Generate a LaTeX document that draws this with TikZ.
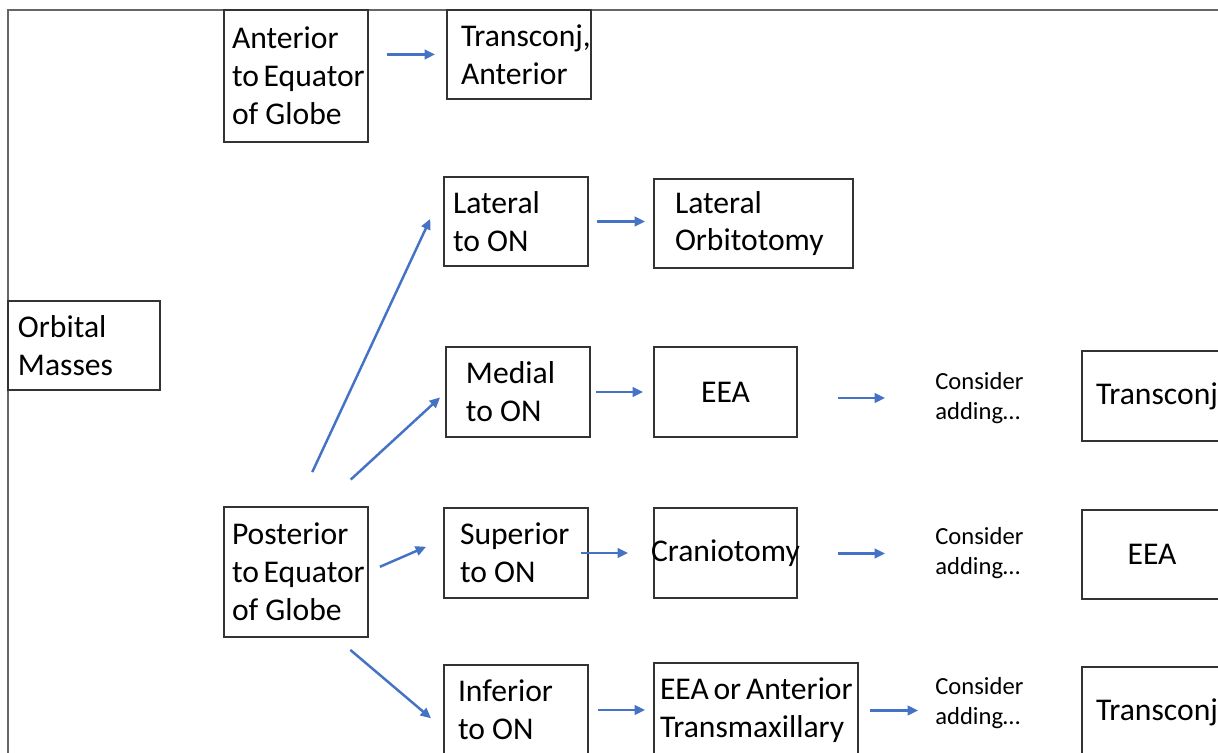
\documentclass[tikz,border=0pt]{standalone}
\usepackage{fontspec}
\setmainfont{Carlito}
\usetikzlibrary{arrows.meta}

\definecolor{arrblue}{RGB}{68,114,196}
\hyphenpenalty=10000

\begin{document}
\begin{tikzpicture}[
  x=0.02cm, y=-0.02cm,
  box/.style={rectangle, draw=black!80, line width=0.8pt, anchor=north west, align=flush left, inner ysep=0pt, outer sep=0pt, font=\fontsize{18}{21.5}\selectfont},
  cbox/.style={box, align=center, inner xsep=0pt},
  note/.style={anchor=west, align=flush left, inner sep=0pt, font=\fontsize{14}{17}\selectfont},
  arr/.style={-{Triangle[length=0.21cm, width=0.19cm]}, draw=arrblue, line width=1.4pt},
]
\useasboundingbox (0,0) rectangle (1218,753);
\clip (0,0) rectangle (1218,753);
\draw[black!60, line width=1pt] (8,10) rectangle (1260,800);

% first level
\node[box, inner xsep=0.2cm, text width=2.64cm, minimum height=1.78cm] (orb) at (8,301) {Orbital\\Masses};
\node[box, inner xsep=0.16cm, text width=2.56cm, minimum height=2.64cm] (ant) at (224,10) {Anterior\\to~Equator\\of Globe};
\node[box, inner xsep=0.16cm, text width=2.56cm, minimum height=2.6cm] (post) at (224,507) {Posterior\\to~Equator\\of Globe};

% position to optic nerve
\node[box, inner xsep=0.28cm, text width=2.32cm, minimum height=1.78cm] (tca) at (447,10) {Transconj,\\Anterior};
\node[box, inner xsep=0.18cm, text width=2.52cm, minimum height=1.78cm] (lat) at (444,177) {Lateral\\to ON};
\node[box, inner xsep=0.4cm, text width=2.08cm, minimum height=1.8cm] (med) at (446,347) {Medial\\to ON};
\node[box, inner xsep=0.32cm, text width=2.24cm, minimum height=1.8cm] (sup) at (444,508) {Superior\\to ON};
\node[box, inner xsep=0.28cm, text width=2.32cm, minimum height=1.8cm] (inf) at (444,665) {Inferior\\to ON};

% approaches
\node[box, inner xsep=0.42cm, text width=3.14cm, minimum height=1.78cm] (lor) at (654,179) {Lateral\\Orbitotomy};
\node[cbox, minimum width=2.86cm, minimum height=1.8cm] (eea1) at (654,347) {EEA};
\node[cbox, minimum width=2.86cm, minimum height=1.8cm] (cra) at (654,508) {\makebox[2.86cm]{Craniotomy}};
\node[box, inner xsep=0.12cm, text width=3.84cm, minimum height=1.9cm] (eat) at (654,663) {EEA~or~Anterior\\Transmaxillary};

\node[note] (con1) at (935,398) {Consider\\adding…};
\node[note] (con2) at (935,553.5) {Consider\\adding…};
\node[note] (con3) at (935,703.5) {Consider\\adding…};

\node[box, inner xsep=0.28cm, text width=2.64cm, minimum height=1.8cm] (tc1) at (1082,351) {Transconj};
\node[cbox, minimum width=2.8cm, minimum height=1.78cm] (eea2) at (1082,510) {EEA};
\node[box, inner xsep=0.28cm, text width=2.64cm, minimum height=1.8cm] (tc3) at (1082,667) {Transconj};

\draw[arr, shorten <=0.38cm, shorten >=0.24cm] (ant.east |- tca.west) -- (tca.west);
\draw[arr, shorten <=0.18cm, shorten >=0.18cm] (lat.east) -- (lat.east -| lor.west);
\draw[arr, shorten <=0.77cm, shorten >=0.65cm] (post.north) -- (lat.156);
\draw[arr, shorten <=0.81cm, shorten >=0.16cm] (post.69) -- (med.west);
\draw[arr, shorten <=0.26cm, shorten >=0.39cm] (post.east) -- (sup.169);
\draw[arr, shorten <=0.4cm, shorten >=0.34cm] (post.301) -- (inf.195);
\draw[arr, shorten <=0.12cm, shorten >=0.22cm] (med.east) -- (eea1.west);
\draw[arr, shorten <=-0.14cm, shorten >=0.52cm] (sup.east) -- (cra.west);
\draw[arr, shorten <=0.2cm, shorten >=0.18cm] (inf.east) -- (inf.east -| eat.west);
\draw[arr, shorten <=0.82cm, shorten >=1cm] (eea1.east |- con1.west) -- (con1.west);
\draw[arr, shorten <=0.82cm, shorten >=1cm] (cra.east |- con2.west) -- (con2.west);
\draw[arr, shorten <=0.24cm, shorten >=0.34cm] (eat.east) -- (eat.east -| con3.west);
\end{tikzpicture}
\end{document}
